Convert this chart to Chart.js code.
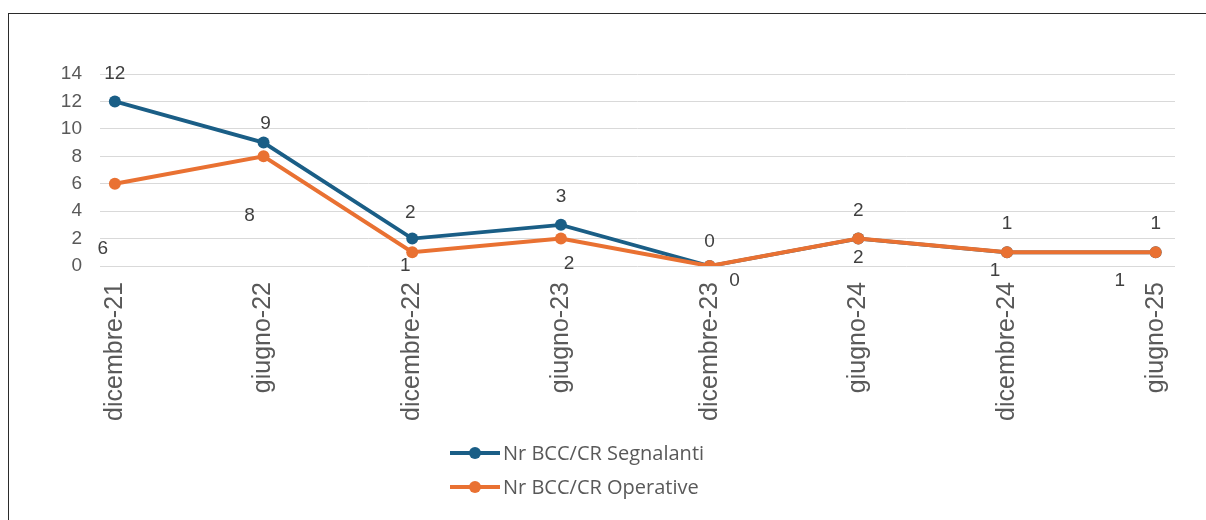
<!DOCTYPE html>
<html>
<head>
<meta charset="utf-8">
<script src="https://cdn.jsdelivr.net/npm/chart.js@4.4.1/dist/chart.umd.min.js"></script>
<style>
  html, body { margin: 0; padding: 0; background: #fff; overflow: hidden; width: 1206px; height: 520px; }
  #frame { position: absolute; left: 8px; top: 13px; width: 1400px; height: 700px;
           border-left: 1.5px solid #2b2b2b; border-top: 1.5px solid #2b2b2b; }
  #wrap { position: absolute; left: 0; top: 0; width: 1206px; height: 520px; }
</style>
</head>
<body>
<div id="frame"></div>
<div id="wrap"><canvas id="c" width="1206" height="520"></canvas></div>
<script>
// Semesters on the horizontal axis
const periods = ['dicembre-21', 'giugno-22', 'dicembre-22', 'giugno-23',
                 'dicembre-23', 'giugno-24', 'dicembre-24', 'giugno-25'];
// Number of BCC/CR per semester
const segnalanti = [12, 9, 2, 3, 0, 2, 1, 1];
const operative  = [6, 8, 1, 2, 0, 2, 1, 1];
// Vertical axis ticks
const yTicks = [0, 2, 4, 6, 8, 10, 12, 14];

// Value-label placement (pixel offsets from each point)
const segnalantiLabelOffsets = [[0, -28], [2, -19], [-2, -26], [0, -28], [0, -24], [0, -28], [0, -29], [0, -29]];
const operativeLabelOffsets  = [[-12, 65], [-14, 59], [-7, 13], [8, 25], [25, 15], [0, 19], [-12, 18], [-36, 28]];

const BLUE = '#1a5e86';
const ORANGE = '#e97132';
const TEXT = '#595959';
const AXIS_FONT = 'Liberation Sans, Arial, sans-serif';
const LEGEND_FONT = 'Open Sans, sans-serif';

const valueLabels = {
  id: 'valueLabels',
  afterDatasetsDraw(chart) {
    const ctx = chart.ctx;
    ctx.save();
    ctx.font = '19px ' + AXIS_FONT;
    ctx.fillStyle = '#404040';
    ctx.textAlign = 'center';
    ctx.textBaseline = 'middle';
    chart.data.datasets.forEach((ds, di) => {
      const meta = chart.getDatasetMeta(di);
      const offs = ds.labelOffsets;
      meta.data.forEach((pt, i) => {
        const v = ds.data[i].y;
        ctx.fillText(String(v), pt.x + offs[i][0], pt.y + offs[i][1]);
      });
    });
    ctx.restore();
  }
};

const stackedLegend = {
  id: 'stackedLegend',
  afterDraw(chart) {
    const ctx = chart.ctx;
    const left = 450, rowY = [453, 487];
    ctx.save();
    ctx.font = '20px ' + LEGEND_FONT;
    ctx.textBaseline = 'middle';
    ctx.textAlign = 'left';
    chart.data.datasets.forEach((ds, i) => {
      const y = rowY[i];
      ctx.strokeStyle = ds.borderColor;
      ctx.lineWidth = 4;
      ctx.beginPath();
      ctx.moveTo(left, y);
      ctx.lineTo(left + 50, y);
      ctx.stroke();
      ctx.fillStyle = ds.borderColor;
      ctx.beginPath();
      ctx.arc(left + 25, y, 6, 0, Math.PI * 2);
      ctx.fill();
      ctx.fillStyle = TEXT;
      ctx.fillText(ds.label, left + 53, y + 1);
    });
    ctx.restore();
  }
};

const toPoints = arr => arr.map((v, i) => ({ x: i, y: v }));

new Chart(document.getElementById('c'), {
  type: 'line',
  data: {
    datasets: [
      {
        label: 'Nr BCC/CR Segnalanti',
        data: toPoints(segnalanti),
        borderColor: BLUE, backgroundColor: BLUE,
        borderWidth: 3.8, pointRadius: 6, pointBorderWidth: 0,
        tension: 0, order: 1,
        labelOffsets: segnalantiLabelOffsets
      },
      {
        label: 'Nr BCC/CR Operative',
        data: toPoints(operative),
        borderColor: ORANGE, backgroundColor: ORANGE,
        borderWidth: 4, pointRadius: 6, pointBorderWidth: 0,
        tension: 0, order: 0,
        labelOffsets: operativeLabelOffsets
      }
    ]
  },
  options: {
    responsive: false,
    animation: false,
    devicePixelRatio: 1,
    layout: { padding: { top: 74, right: 31, bottom: 84, left: 0 } },
    plugins: { legend: { display: false }, tooltip: { enabled: false } },
    scales: {
      x: {
        type: 'linear',
        min: -0.1,
        max: 7.13,
        afterBuildTicks(scale) { scale.ticks = periods.map((_, i) => ({ value: i })); },
        afterFit(scale) { scale.height = 170; },
        grid: { display: false },
        border: { display: false },
        ticks: {
          autoSkip: false,
          minRotation: 90,
          maxRotation: 90,
          padding: 8,
          color: TEXT,
          font: { family: AXIS_FONT, size: 25 },
          callback: v => periods[v]
        }
      },
      y: {
        min: 0,
        max: 14,
        afterBuildTicks(scale) { scale.ticks = yTicks.map(v => ({ value: v })); },
        afterFit(scale) { scale.width = 100; },
        grid: { color: '#d9d9d9', lineWidth: 1, drawTicks: false },
        border: { display: false },
        ticks: {
          padding: 18,
          color: TEXT,
          font: { family: AXIS_FONT, size: 19 }
        }
      }
    }
  },
  plugins: [valueLabels, stackedLegend]
});
</script>
</body>
</html>
